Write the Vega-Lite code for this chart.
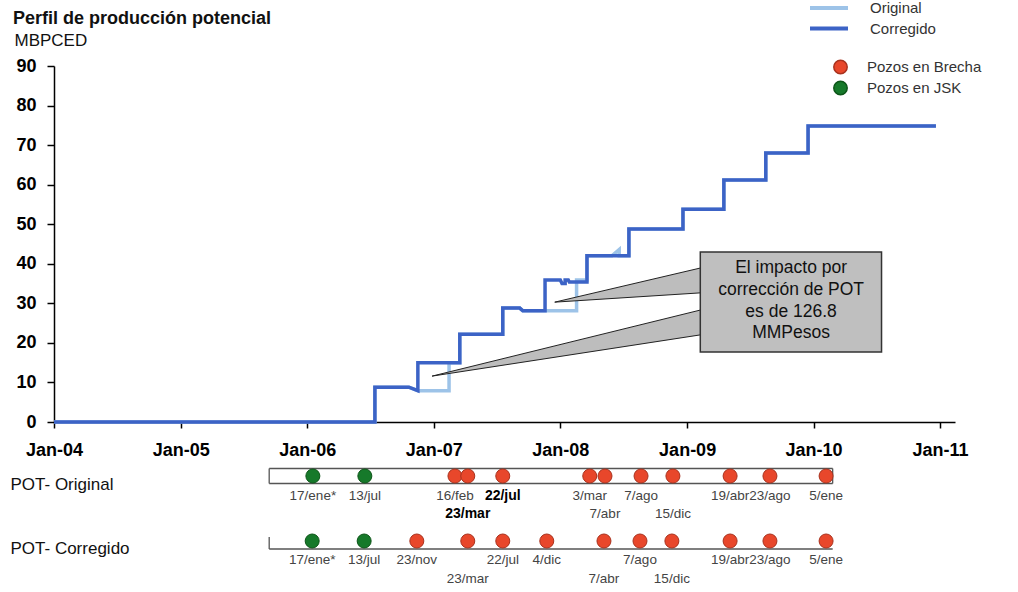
{
  "$schema": "https://vega.github.io/schema/vega-lite/v6.json",
  "padding": {"left": 10, "top": 0, "right": 0, "bottom": 0},
  "spacing": 40,
  "bounds": "flush",
  "background": "white",
  "config": {
    "font": "Liberation Sans",
    "view": {"stroke": null},
    "legend": {"padding": 0, "labelFont": "Liberation Sans", "labelFontSize": 15, "labelColor": "#333"}
  },
  "resolve": {
    "scale": {"x": "independent", "y": "independent", "stroke": "independent", "fill": "independent"},
    "legend": {"stroke": "independent", "fill": "independent"}
  },
  "datasets": {
    "perfil": [
      {"serie": "Original", "fecha": "2004-01-01", "valor": 0},
      {"serie": "Original", "fecha": "2006-07-15", "valor": 0},
      {"serie": "Original", "fecha": "2006-07-15", "valor": 8.8},
      {"serie": "Original", "fecha": "2006-10-21", "valor": 8.8},
      {"serie": "Original", "fecha": "2006-11-16", "valor": 7.9},
      {"serie": "Original", "fecha": "2007-02-14", "valor": 7.9},
      {"serie": "Original", "fecha": "2007-02-14", "valor": 15},
      {"serie": "Original", "fecha": "2007-03-17", "valor": 15},
      {"serie": "Original", "fecha": "2007-03-17", "valor": 22.2},
      {"serie": "Original", "fecha": "2007-07-19", "valor": 22.2},
      {"serie": "Original", "fecha": "2007-07-19", "valor": 28.8},
      {"serie": "Original", "fecha": "2007-09-06", "valor": 28.8},
      {"serie": "Original", "fecha": "2007-09-15", "valor": 28.1},
      {"serie": "Original", "fecha": "2008-02-17", "valor": 28.1},
      {"serie": "Original", "fecha": "2008-02-17", "valor": 35.9},
      {"serie": "Original", "fecha": "2008-03-18", "valor": 35.9},
      {"serie": "Original", "fecha": "2008-03-18", "valor": 42},
      {"serie": "Original", "fecha": "2008-05-29", "valor": 42},
      {"serie": "Original", "fecha": "2008-06-19", "valor": 43.6},
      {"serie": "Original", "fecha": "2008-06-19", "valor": 42},
      {"serie": "Original", "fecha": "2008-07-17", "valor": 42},
      {"serie": "Original", "fecha": "2008-07-17", "valor": 48.8},
      {"serie": "Original", "fecha": "2008-12-20", "valor": 48.8},
      {"serie": "Original", "fecha": "2008-12-20", "valor": 53.8},
      {"serie": "Original", "fecha": "2009-04-17", "valor": 53.8},
      {"serie": "Original", "fecha": "2009-04-17", "valor": 61.2},
      {"serie": "Original", "fecha": "2009-08-16", "valor": 61.2},
      {"serie": "Original", "fecha": "2009-08-16", "valor": 68},
      {"serie": "Original", "fecha": "2009-12-16", "valor": 68},
      {"serie": "Original", "fecha": "2009-12-16", "valor": 74.8},
      {"serie": "Original", "fecha": "2010-12-20", "valor": 74.8},
      {"serie": "Corregido", "fecha": "2004-01-01", "valor": 0},
      {"serie": "Corregido", "fecha": "2006-07-15", "valor": 0},
      {"serie": "Corregido", "fecha": "2006-07-15", "valor": 8.8},
      {"serie": "Corregido", "fecha": "2006-10-21", "valor": 8.8},
      {"serie": "Corregido", "fecha": "2006-11-16", "valor": 7.9},
      {"serie": "Corregido", "fecha": "2006-11-16", "valor": 15},
      {"serie": "Corregido", "fecha": "2007-03-17", "valor": 15},
      {"serie": "Corregido", "fecha": "2007-03-17", "valor": 22.2},
      {"serie": "Corregido", "fecha": "2007-07-19", "valor": 22.2},
      {"serie": "Corregido", "fecha": "2007-07-19", "valor": 28.8},
      {"serie": "Corregido", "fecha": "2007-09-06", "valor": 28.8},
      {"serie": "Corregido", "fecha": "2007-09-15", "valor": 28.1},
      {"serie": "Corregido", "fecha": "2007-11-18", "valor": 28.1},
      {"serie": "Corregido", "fecha": "2007-11-18", "valor": 35.9},
      {"serie": "Corregido", "fecha": "2008-01-01", "valor": 35.9},
      {"serie": "Corregido", "fecha": "2008-01-06", "valor": 35},
      {"serie": "Corregido", "fecha": "2008-01-15", "valor": 35},
      {"serie": "Corregido", "fecha": "2008-01-15", "valor": 35.9},
      {"serie": "Corregido", "fecha": "2008-01-24", "valor": 35.9},
      {"serie": "Corregido", "fecha": "2008-01-27", "valor": 35.4},
      {"serie": "Corregido", "fecha": "2008-03-18", "valor": 35.4},
      {"serie": "Corregido", "fecha": "2008-03-18", "valor": 42},
      {"serie": "Corregido", "fecha": "2008-07-17", "valor": 42},
      {"serie": "Corregido", "fecha": "2008-07-17", "valor": 48.8},
      {"serie": "Corregido", "fecha": "2008-12-20", "valor": 48.8},
      {"serie": "Corregido", "fecha": "2008-12-20", "valor": 53.8},
      {"serie": "Corregido", "fecha": "2009-04-17", "valor": 53.8},
      {"serie": "Corregido", "fecha": "2009-04-17", "valor": 61.2},
      {"serie": "Corregido", "fecha": "2009-08-16", "valor": 61.2},
      {"serie": "Corregido", "fecha": "2009-08-16", "valor": 68},
      {"serie": "Corregido", "fecha": "2009-12-16", "valor": 68},
      {"serie": "Corregido", "fecha": "2009-12-16", "valor": 74.8},
      {"serie": "Corregido", "fecha": "2010-12-20", "valor": 74.8}
    ],
    "punteros": [
      {"id": "superior", "fecha": "2007-12-16", "valor": 30.3, "valor2": 30.3},
      {"id": "superior", "fecha": "2009-03-08", "valor": 39.5, "valor2": 32.8},
      {"id": "inferior", "fecha": "2006-12-27", "valor": 11.6, "valor2": 11.6},
      {"id": "inferior", "fecha": "2009-03-08", "valor": 28.9, "valor2": 22.4}
    ],
    "cuadro": [
      {"fecha": "2009-02-08", "fecha2": "2010-07-16", "valor": 43, "valor2": 17.7, "texto": "El impacto por\ncorrección de POT\nes de 126.8\nMMPesos", "fechaTexto": "2009-10-28", "valorTexto": 38.9}
    ],
    "periodo": [
      {"serie": "POT- Original", "fecha": "2005-09-13", "fecha2": "2010-02-25"},
      {"serie": "POT- Corregido", "fecha": "2005-09-13", "fecha2": "2010-02-25"}
    ],
    "pozos": [
      {"serie": "POT- Original", "fecha": "2006-01-17", "tipo": "Pozos en JSK", "etiqueta": "17/ene*", "nivel": 1},
      {"serie": "POT- Original", "fecha": "2006-06-16", "tipo": "Pozos en JSK", "etiqueta": "13/jul", "nivel": 1},
      {"serie": "POT- Original", "fecha": "2007-03-03", "tipo": "Pozos en Brecha", "etiqueta": "16/feb", "nivel": 1},
      {"serie": "POT- Original", "fecha": "2007-04-09", "tipo": "Pozos en Brecha", "etiqueta": "23/mar", "nivel": 2},
      {"serie": "POT- Original", "fecha": "2007-07-19", "tipo": "Pozos en Brecha", "etiqueta": "22/jul", "nivel": 1},
      {"serie": "POT- Original", "fecha": "2008-03-26", "tipo": "Pozos en Brecha", "etiqueta": "3/mar", "nivel": 1},
      {"serie": "POT- Original", "fecha": "2008-05-09", "tipo": "Pozos en Brecha", "etiqueta": "7/abr", "nivel": 2},
      {"serie": "POT- Original", "fecha": "2008-08-21", "tipo": "Pozos en Brecha", "etiqueta": "7/ago", "nivel": 1},
      {"serie": "POT- Original", "fecha": "2008-11-21", "tipo": "Pozos en Brecha", "etiqueta": "15/dic", "nivel": 2},
      {"serie": "POT- Original", "fecha": "2009-05-05", "tipo": "Pozos en Brecha", "etiqueta": "19/abr", "nivel": 1},
      {"serie": "POT- Original", "fecha": "2009-08-28", "tipo": "Pozos en Brecha", "etiqueta": "23/ago", "nivel": 1},
      {"serie": "POT- Original", "fecha": "2010-02-06", "tipo": "Pozos en Brecha", "etiqueta": "5/ene", "nivel": 1},
      {"serie": "POT- Corregido", "fecha": "2006-01-15", "tipo": "Pozos en JSK", "etiqueta": "17/ene*", "nivel": 1},
      {"serie": "POT- Corregido", "fecha": "2006-06-14", "tipo": "Pozos en JSK", "etiqueta": "13/jul", "nivel": 1},
      {"serie": "POT- Corregido", "fecha": "2006-11-13", "tipo": "Pozos en Brecha", "etiqueta": "23/nov", "nivel": 1},
      {"serie": "POT- Corregido", "fecha": "2007-04-09", "tipo": "Pozos en Brecha", "etiqueta": "23/mar", "nivel": 2},
      {"serie": "POT- Corregido", "fecha": "2007-07-19", "tipo": "Pozos en Brecha", "etiqueta": "22/jul", "nivel": 1},
      {"serie": "POT- Corregido", "fecha": "2007-11-23", "tipo": "Pozos en Brecha", "etiqueta": "4/dic", "nivel": 1},
      {"serie": "POT- Corregido", "fecha": "2008-05-06", "tipo": "Pozos en Brecha", "etiqueta": "7/abr", "nivel": 2},
      {"serie": "POT- Corregido", "fecha": "2008-08-18", "tipo": "Pozos en Brecha", "etiqueta": "7/ago", "nivel": 1},
      {"serie": "POT- Corregido", "fecha": "2008-11-18", "tipo": "Pozos en Brecha", "etiqueta": "15/dic", "nivel": 2},
      {"serie": "POT- Corregido", "fecha": "2009-05-05", "tipo": "Pozos en Brecha", "etiqueta": "19/abr", "nivel": 1},
      {"serie": "POT- Corregido", "fecha": "2009-08-28", "tipo": "Pozos en Brecha", "etiqueta": "23/ago", "nivel": 1},
      {"serie": "POT- Corregido", "fecha": "2010-02-06", "tipo": "Pozos en Brecha", "etiqueta": "5/ene", "nivel": 1}
    ]
  },
  "vconcat": [
    {
      "width": 901,
      "height": 356,
      "title": {"text": "Perfil de producción potencial", "anchor": "start", "frame": "group", "dx": -41, "dy": 36, "offset": 8, "fontSize": 18, "font": "Liberation Sans", "fontWeight": "bold", "color": "#111"},
      "encoding": {
        "x": {
          "field": "fecha", "type": "temporal", "title": null,
          "scale": {"domain": [{"year": 2004, "month": 1, "date": 1}, {"year": 2011, "month": 2, "date": 13}]},
          "axis": {
            "values": [{"year": 2004, "month": 1, "date": 1}, {"year": 2005, "month": 1, "date": 1}, {"year": 2006, "month": 1, "date": 1}, {"year": 2007, "month": 1, "date": 1}, {"year": 2008, "month": 1, "date": 1}, {"year": 2009, "month": 1, "date": 1}, {"year": 2010, "month": 1, "date": 1}, {"year": 2011, "month": 1, "date": 1}],
            "format": "%b-%y", "grid": false, "labelFlush": false, "labelOverlap": false,
            "labelFont": "Liberation Sans", "labelFontSize": 18, "labelFontWeight": "bold", "labelColor": "#000",
            "tickSize": 6, "tickColor": "#000", "tickWidth": 1.5, "domainColor": "#000", "domainWidth": 1.5, "labelPadding": 13
          }
        },
        "y": {
          "field": "valor", "type": "quantitative",
          "scale": {"domain": [0, 90], "nice": false},
          "axis": {
            "values": [0, 10, 20, 30, 40, 50, 60, 70, 80, 90], "grid": false,
            "labelFont": "Liberation Sans", "labelFontSize": 18, "labelFontWeight": "bold", "labelColor": "#000",
            "tickSize": 7, "tickColor": "#000", "tickWidth": 1.5, "domainColor": "#000", "domainWidth": 1.5, "labelPadding": 11,
            "title": "MBPCED", "titleAngle": 0, "titleAlign": "left", "titleBaseline": "alphabetic", "titleX": -40, "titleY": -21,
            "titleFont": "Liberation Sans", "titleFontSize": 17, "titleFontWeight": "normal", "titleColor": "#111"
          }
        }
      },
      "layer": [
        {
          "data": {"name": "perfil"},
          "transform": [{"filter": "datum.serie === 'Original'"}],
          "mark": {"type": "line", "strokeWidth": 3.5},
          "encoding": {
            "order": {"value": null},
            "stroke": {
              "field": "serie", "type": "nominal",
              "scale": {"domain": ["Original", "Corregido"], "range": ["#9DC3E8", "#3C63C6"]},
              "legend": {"title": null, "orient": "none", "legendX": 754, "legendY": -66, "symbolType": "stroke", "symbolSize": 1444, "symbolStrokeWidth": 4, "labelOffset": 20, "clipHeight": 16, "rowPadding": 4.5, "labelFontSize": 15, "labelColor": "#333"}
            }
          }
        },
        {
          "data": {"name": "perfil"},
          "transform": [{"filter": "datum.serie === 'Corregido'"}],
          "mark": {"type": "line", "strokeWidth": 3.5},
          "encoding": {
            "order": {"value": null},
            "stroke": {"field": "serie", "type": "nominal"}
          }
        },
        {
          "data": {"name": "punteros"},
          "mark": {"type": "area", "fill": "#BDBDBD", "stroke": "#222", "strokeWidth": 1, "opacity": 1},
          "encoding": {
            "y2": {"field": "valor2"},
            "detail": {"field": "id", "type": "nominal"}
          }
        },
        {
          "data": {"name": "cuadro"},
          "mark": {"type": "rect", "fill": "#BFBFBF", "stroke": "#333", "strokeWidth": 1.5},
          "encoding": {
            "x2": {"field": "fecha2"},
            "y2": {"field": "valor2"}
          }
        },
        {
          "data": {"name": "cuadro"},
          "mark": {"type": "text", "lineBreak": "\n", "lineHeight": 21.7, "fontSize": 17.5, "font": "Liberation Sans", "color": "#111", "align": "center", "baseline": "middle"},
          "encoding": {
            "x": {"field": "fechaTexto", "type": "temporal"},
            "y": {"field": "valorTexto", "type": "quantitative"},
            "text": {"field": "texto"}
          }
        }
      ]
    },
    {
      "width": 901,
      "height": 93,
      "encoding": {
        "x": {
          "field": "fecha", "type": "temporal", "axis": null,
          "scale": {"domain": [{"year": 2004, "month": 1, "date": 1}, {"year": 2011, "month": 2, "date": 13}]}
        },
        "y": {
          "field": "serie", "type": "nominal",
          "scale": {"type": "point", "domain": ["POT- Original", "POT- Corregido"], "padding": 0.2154},
          "axis": {"title": null, "domain": false, "ticks": false, "tickSize": 0, "grid": false, "labelAlign": "left", "labelBaseline": "middle", "labelPadding": 44, "labelOffset": 8, "labelFont": "Liberation Sans", "labelFontSize": 17, "labelColor": "#111", "labelLimit": 300}
        }
      },
      "layer": [
        {
          "data": {"name": "periodo"},
          "transform": [{"filter": "datum.serie === 'POT- Original'"}],
          "mark": {"type": "rule", "yOffset": -7.5, "stroke": "#555", "strokeWidth": 1.3},
          "encoding": {"x2": {"field": "fecha2"}}
        },
        {
          "data": {"name": "periodo"},
          "transform": [{"filter": "datum.serie === 'POT- Original'"}],
          "mark": {"type": "rule", "yOffset": 7.5, "stroke": "#555", "strokeWidth": 1.3},
          "encoding": {"x2": {"field": "fecha2"}}
        },
        {
          "data": {"name": "periodo"},
          "transform": [{"filter": "datum.serie === 'POT- Original'"}],
          "mark": {"type": "tick", "size": 15, "thickness": 1.3, "color": "#555", "opacity": 1}
        },
        {
          "data": {"name": "periodo"},
          "transform": [{"filter": "datum.serie === 'POT- Original'"}],
          "mark": {"type": "tick", "size": 15, "thickness": 1.3, "color": "#555", "opacity": 1},
          "encoding": {"x": {"field": "fecha2", "type": "temporal"}}
        },
        {
          "data": {"name": "periodo"},
          "transform": [{"filter": "datum.serie === 'POT- Corregido'"}],
          "mark": {"type": "rule", "yOffset": 8, "stroke": "#555", "strokeWidth": 1.3},
          "encoding": {"x2": {"field": "fecha2"}}
        },
        {
          "data": {"name": "periodo"},
          "transform": [{"filter": "datum.serie === 'POT- Corregido'"}],
          "mark": {"type": "tick", "size": 12, "thickness": 1.3, "yOffset": 2, "color": "#555", "opacity": 1}
        },
        {
          "data": {"name": "pozos"},
          "mark": {"type": "point", "shape": "circle", "filled": true, "size": 196, "strokeWidth": 1, "opacity": 1},
          "encoding": {
            "fill": {
              "field": "tipo", "type": "nominal",
              "scale": {"domain": ["Pozos en Brecha", "Pozos en JSK"], "range": ["#E8472B", "#16792A"]},
              "legend": {"title": null, "orient": "none", "legendX": 779, "legendY": -403, "symbolType": "circle", "symbolSize": 180, "labelOffset": 19, "clipHeight": 16, "rowPadding": 5, "labelFontSize": 15, "labelColor": "#333"}
            },
            "stroke": {
              "field": "tipo", "type": "nominal",
              "scale": {"domain": ["Pozos en Brecha", "Pozos en JSK"], "range": ["#A8321E", "#0D5518"]},
              "legend": {"title": null, "orient": "none", "legendX": 779, "legendY": -403, "symbolType": "circle", "symbolSize": 180, "labelOffset": 19, "clipHeight": 16, "rowPadding": 5, "labelFontSize": 15, "labelColor": "#333"}
            }
          }
        },
        {
          "data": {"name": "pozos"},
          "transform": [{"filter": "datum.nivel === 1 && !(datum.serie === 'POT- Original' && datum.etiqueta === '22/jul')"}],
          "mark": {"type": "text", "dy": 19.5, "fontSize": 13.5, "font": "Liberation Sans", "color": "#444", "baseline": "middle"},
          "encoding": {"text": {"field": "etiqueta"}}
        },
        {
          "data": {"name": "pozos"},
          "transform": [{"filter": "datum.nivel === 2 && !(datum.serie === 'POT- Original' && datum.etiqueta === '23/mar')"}],
          "mark": {"type": "text", "dy": 38, "fontSize": 13.5, "font": "Liberation Sans", "color": "#444", "baseline": "middle"},
          "encoding": {"text": {"field": "etiqueta"}}
        },
        {
          "data": {"name": "pozos"},
          "transform": [{"filter": "datum.serie === 'POT- Original' && datum.etiqueta === '22/jul'"}],
          "mark": {"type": "text", "dy": 19.5, "fontSize": 14, "font": "Liberation Sans", "fontWeight": "bold", "color": "#000", "baseline": "middle"},
          "encoding": {"text": {"field": "etiqueta"}}
        },
        {
          "data": {"name": "pozos"},
          "transform": [{"filter": "datum.serie === 'POT- Original' && datum.etiqueta === '23/mar'"}],
          "mark": {"type": "text", "dy": 38, "fontSize": 14, "font": "Liberation Sans", "fontWeight": "bold", "color": "#000", "baseline": "middle"},
          "encoding": {"text": {"field": "etiqueta"}}
        }
      ]
    }
  ]
}
